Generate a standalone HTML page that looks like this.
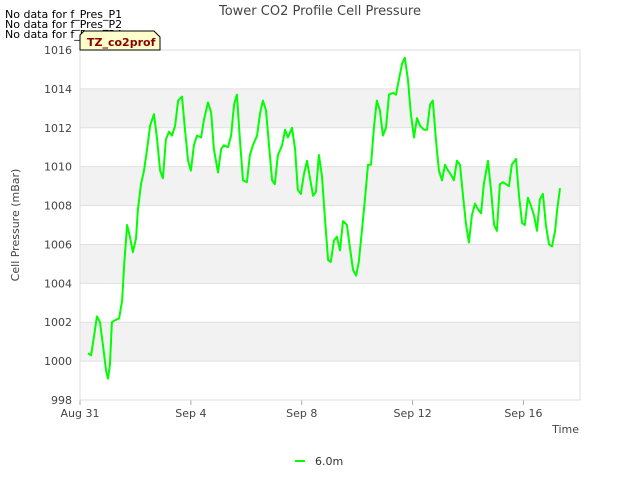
<!DOCTYPE html>
<html><head><meta charset="utf-8"><style>
body{margin:0;background:#fff;font-family:"DejaVu Sans","Liberation Sans",sans-serif;}
svg text{font-family:"DejaVu Sans","Liberation Sans",sans-serif;}
</style></head><body>
<svg id="chart" width="640" height="480" xmlns="http://www.w3.org/2000/svg">
<text x="320" y="15" text-anchor="middle" font-size="13" fill="#444">Tower CO2 Profile Cell Pressure</text>
<g font-size="11" fill="#000">
<text x="5" y="18">No data for f_Pres_P1</text>
<text x="5" y="28">No data for f_Pres_P2</text>
<text x="5" y="38">No data for f_Pres_P4</text>
</g>
<g id="plot"></g>
<g>
<path d="M80,50 L80,35 L84,31 L154,31 L160,37 L160,50 Z" fill="#ffffcc" stroke="#000" stroke-width="1"/>
<text x="87" y="46" font-size="11" font-weight="bold" fill="#8b0000">TZ_co2prof</text>
</g>
<text transform="translate(19,225) rotate(-90)" text-anchor="middle" font-size="11" fill="#444">Cell Pressure (mBar)</text>
<text x="579" y="433" text-anchor="end" font-size="11" fill="#444">Time</text>
<g>
<line x1="295" y1="461" x2="305" y2="461" stroke="#00ff00" stroke-width="2"/>
<text x="315" y="465" font-size="11" fill="#333">6.0m</text>
</g>
</svg>
<script>
const days=[0.29,0.40,0.51,0.61,0.72,0.83,0.94,1.01,1.08,1.15,1.26,1.41,1.52,1.59,1.70,1.80,1.91,2.02,2.09,2.20,2.31,2.42,2.53,2.67,2.78,2.89,2.99,3.10,3.21,3.32,3.43,3.54,3.68,3.79,3.90,4.00,4.11,4.22,4.37,4.47,4.62,4.73,4.83,4.98,5.09,5.19,5.34,5.45,5.56,5.66,5.77,5.88,6.02,6.13,6.24,6.39,6.49,6.60,6.71,6.82,6.93,7.03,7.14,7.29,7.40,7.50,7.65,7.76,7.86,7.97,8.08,8.19,8.30,8.41,8.51,8.62,8.73,8.84,8.95,9.05,9.16,9.27,9.38,9.49,9.63,9.74,9.85,9.96,10.06,10.17,10.28,10.39,10.50,10.61,10.71,10.82,10.93,11.04,11.15,11.29,11.40,11.51,11.62,11.72,11.83,11.94,12.05,12.16,12.27,12.41,12.52,12.63,12.73,12.84,12.95,13.06,13.17,13.28,13.38,13.49,13.60,13.71,13.82,13.93,14.03,14.14,14.25,14.36,14.47,14.57,14.72,14.83,14.94,15.04,15.15,15.26,15.37,15.48,15.58,15.73,15.84,15.95,16.05,16.16,16.27,16.38,16.49,16.59,16.70,16.81,16.92,17.03,17.14,17.21,17.32];
const pressure=[1000.4,1000.3,1001.3,1002.3,1002.0,1000.8,999.5,999.1,999.8,1002.0,1002.1,1002.2,1003.1,1004.9,1007.0,1006.4,1005.6,1006.3,1007.8,1009.1,1009.8,1010.9,1012.1,1012.7,1011.4,1009.8,1009.4,1011.4,1011.8,1011.6,1012.1,1013.4,1013.6,1011.9,1010.3,1009.8,1011.1,1011.6,1011.5,1012.4,1013.3,1012.8,1010.9,1009.7,1010.9,1011.1,1011.0,1011.6,1013.2,1013.7,1011.4,1009.3,1009.2,1010.6,1011.1,1011.6,1012.7,1013.4,1012.9,1011.1,1009.3,1009.1,1010.6,1011.1,1011.9,1011.5,1012.0,1010.9,1008.8,1008.6,1009.6,1010.3,1009.4,1008.5,1008.7,1010.6,1009.5,1007.3,1005.2,1005.1,1006.2,1006.4,1005.7,1007.2,1007.0,1005.8,1004.7,1004.4,1005.1,1006.7,1008.3,1010.1,1010.1,1012.1,1013.4,1012.9,1011.6,1012.0,1013.7,1013.8,1013.7,1014.5,1015.3,1015.6,1014.5,1012.7,1011.5,1012.5,1012.1,1011.9,1011.9,1013.2,1013.4,1011.4,1009.8,1009.3,1010.1,1009.8,1009.6,1009.3,1010.3,1010.1,1008.5,1007.0,1006.1,1007.5,1008.1,1007.8,1007.6,1009.1,1010.3,1008.8,1007.0,1006.7,1009.1,1009.2,1009.1,1009.0,1010.1,1010.4,1008.5,1007.1,1007.0,1008.4,1008.0,1007.5,1006.7,1008.3,1008.6,1007.0,1006.0,1005.9,1006.7,1007.7,1008.9];
const yTicks=[998,1000,1002,1004,1006,1008,1010,1012,1014,1016];
const xTickDays=[0,4,8,12,16];
const xTickLabels=["Aug 31","Sep 4","Sep 8","Sep 12","Sep 16"];
const NS="http://www.w3.org/2000/svg";
const L=80,R=580,T=50,B=400,dMin=0,dMax=18.04,yMin=998,yMax=1016;
function xs(d){return L+(d-dMin)/(dMax-dMin)*(R-L);}
function ys(v){return B-(v-yMin)/(yMax-yMin)*(B-T);}
const g=document.getElementById('plot');
function mk(t,a){const e=document.createElementNS(NS,t);for(const k in a)e.setAttribute(k,a[k]);g.appendChild(e);return e;}
for(let i=0;i<yTicks.length-1;i++){
  if(i%2===1){const r=mk('rect',{x:L,y:ys(yTicks[i+1]),width:R-L,height:ys(yTicks[i])-ys(yTicks[i+1]),fill:'#f2f2f2'});
  
  }
}
yTicks.forEach(v=>{
  const l=mk('line',{x1:L,x2:R,y1:ys(v),y2:ys(v),stroke:'#e0e0e0'});
  
  
  const t=mk('text',{x:L-8,y:ys(v)+4,'text-anchor':'end','font-size':'11',fill:'#444'});
  t.textContent=v;
  
  
});
xTickDays.forEach((d,i)=>{
  const l=mk('line',{x1:xs(d),x2:xs(d),y1:B,y2:B+5,stroke:'#aaa'});
  
  
  const t=mk('text',{x:xs(d),y:B+17,'text-anchor':'middle','font-size':'11',fill:'#444'});
  t.textContent=xTickLabels[i];
  
  
});
const fr=mk('rect',{x:L,y:T,width:R-L,height:B-T,fill:'none',stroke:'#ddd'});


const pts=days.map((d,i)=>xs(d).toFixed(1)+','+ys(pressure[i]).toFixed(1)).join(' ');
const pl=mk('polyline',{points:pts,fill:'none',stroke:'#00ff00','stroke-width':'2','stroke-linejoin':'round'});


</script>
</body></html>
